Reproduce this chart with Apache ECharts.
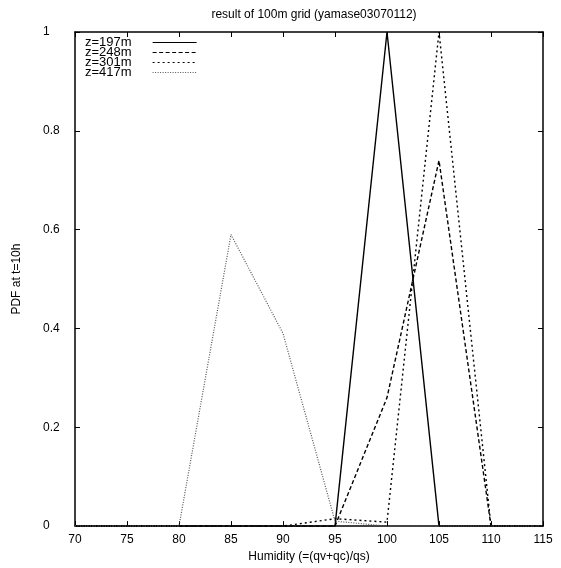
<!DOCTYPE html>
<html lang="en">
<head>
    <meta charset="UTF-8">
    <title>result of 100m grid</title>
    <script src="https://cdn.jsdelivr.net/npm/echarts@6/dist/echarts.min.js"></script>
    <style type="text/css">
        body { margin: 0px; padding: 0px; background: #fff; }
        #chart { width: 561px; height: 568px; }
    </style>
</head>
<body>
    <div id="chart"></div>
</body>
<script>
    // humidity bins
    const humidity = [70, 75, 80, 85, 90, 95, 100, 105, 110, 115];

    // PDF values per height
    const z197 = [0, 0, 0, 0, 0, 0, 1.0, 0, 0, 0];
    const z248 = [0, 0, 0, 0, 0, 0, 0.26, 0.74, 0, 0];
    const z301 = [0, 0, 0, 0, 0, 0.015, 0.008, 1.0, 0, 0];
    const z417 = [0, 0, 0, 0.59, 0.39, 0.01, 0, 0, 0, 0];

    const names = ['z=197m', 'z=248m', 'z=301m', 'z=417m'];

    function pairs(ys) {
        return humidity.map((x, i) => [x, ys[i]]);
    }

    const font = 'Liberation Sans, Arial, sans-serif';

    var myChart = echarts.init(document.getElementById('chart'));

    var option = {
        animation: false,
        title: {
            text: 'result of 100m grid (yamase03070112)',
            left: 309,
            top: 4,
            textAlign: 'center',
            textStyle: { color: '#000', fontSize: 12, fontWeight: 'normal', fontFamily: font }
        },
        legend: {
            orient: 'vertical',
            left: 85,
            top: 36,
            align: 'right',
            itemGap: -3,
            itemWidth: 44,
            itemHeight: 8,
            padding: 0,
            itemStyle: { opacity: 0 },
            lineStyle: { width: 1.2 },
            textStyle: { color: '#000', fontSize: 13, fontFamily: font, padding: [0, 16, 0, 0] },
            data: names
        },
        grid: { left: 75, right: 18, top: 32, bottom: 35 },
        xAxis: [
            {
                type: 'value', min: 70, max: 115, interval: 5,
                name: 'Humidity (=(qv+qc)/qs)', nameLocation: 'middle', nameGap: 22,
                nameTextStyle: { color: '#000', fontSize: 12, fontFamily: font },
                axisLine: { onZero: false, lineStyle: { color: '#000', width: 1.5 } },
                axisTick: { inside: true, length: 5, lineStyle: { color: '#000' } },
                axisLabel: { color: '#000', fontSize: 12, fontFamily: font, margin: 8 },
                splitLine: { show: false }
            },
            {
                type: 'value', min: 70, max: 115, interval: 5, position: 'top',
                axisLine: { onZero: false, lineStyle: { color: '#000', width: 1.5 } },
                axisTick: { inside: true, length: 5, lineStyle: { color: '#000' } },
                axisLabel: { show: false },
                splitLine: { show: false }
            }
        ],
        yAxis: [
            {
                type: 'value', min: 0, max: 1, interval: 0.2,
                name: 'PDF at t=10h', nameLocation: 'middle', nameGap: 52, nameRotate: 90,
                nameTextStyle: { color: '#000', fontSize: 12, fontFamily: font },
                axisLine: { show: true, lineStyle: { color: '#000', width: 1.5 } },
                axisTick: { show: true, inside: true, length: 5, lineStyle: { color: '#000' } },
                axisLabel: { color: '#000', fontSize: 12, fontFamily: font, margin: 32, align: 'left' },
                splitLine: { show: false }
            },
            {
                type: 'value', min: 0, max: 1, interval: 0.2, position: 'right',
                axisLine: { show: true, lineStyle: { color: '#000', width: 1.5 } },
                axisTick: { show: true, inside: true, length: 5, lineStyle: { color: '#000' } },
                axisLabel: { show: false },
                splitLine: { show: false }
            }
        ],
        series: [
            {
                name: names[0], type: 'line', symbol: 'none', data: pairs(z197),
                color: '#000', lineStyle: { color: '#000', width: 1.4, type: 'solid' }
            },
            {
                name: names[1], type: 'line', symbol: 'none', data: pairs(z248),
                color: '#000', lineStyle: { color: '#000', width: 1.4, type: [4, 2.5] }
            },
            {
                name: names[2], type: 'line', symbol: 'none', data: pairs(z301),
                color: '#000', lineStyle: { color: '#000', width: 1.4, type: [2, 3] }
            },
            {
                name: names[3], type: 'line', symbol: 'none', data: pairs(z417),
                color: '#555', lineStyle: { color: '#555', width: 1.2, type: [1, 1.5] }
            }
        ]
    };
    myChart.setOption(option);
</script>
</html>
